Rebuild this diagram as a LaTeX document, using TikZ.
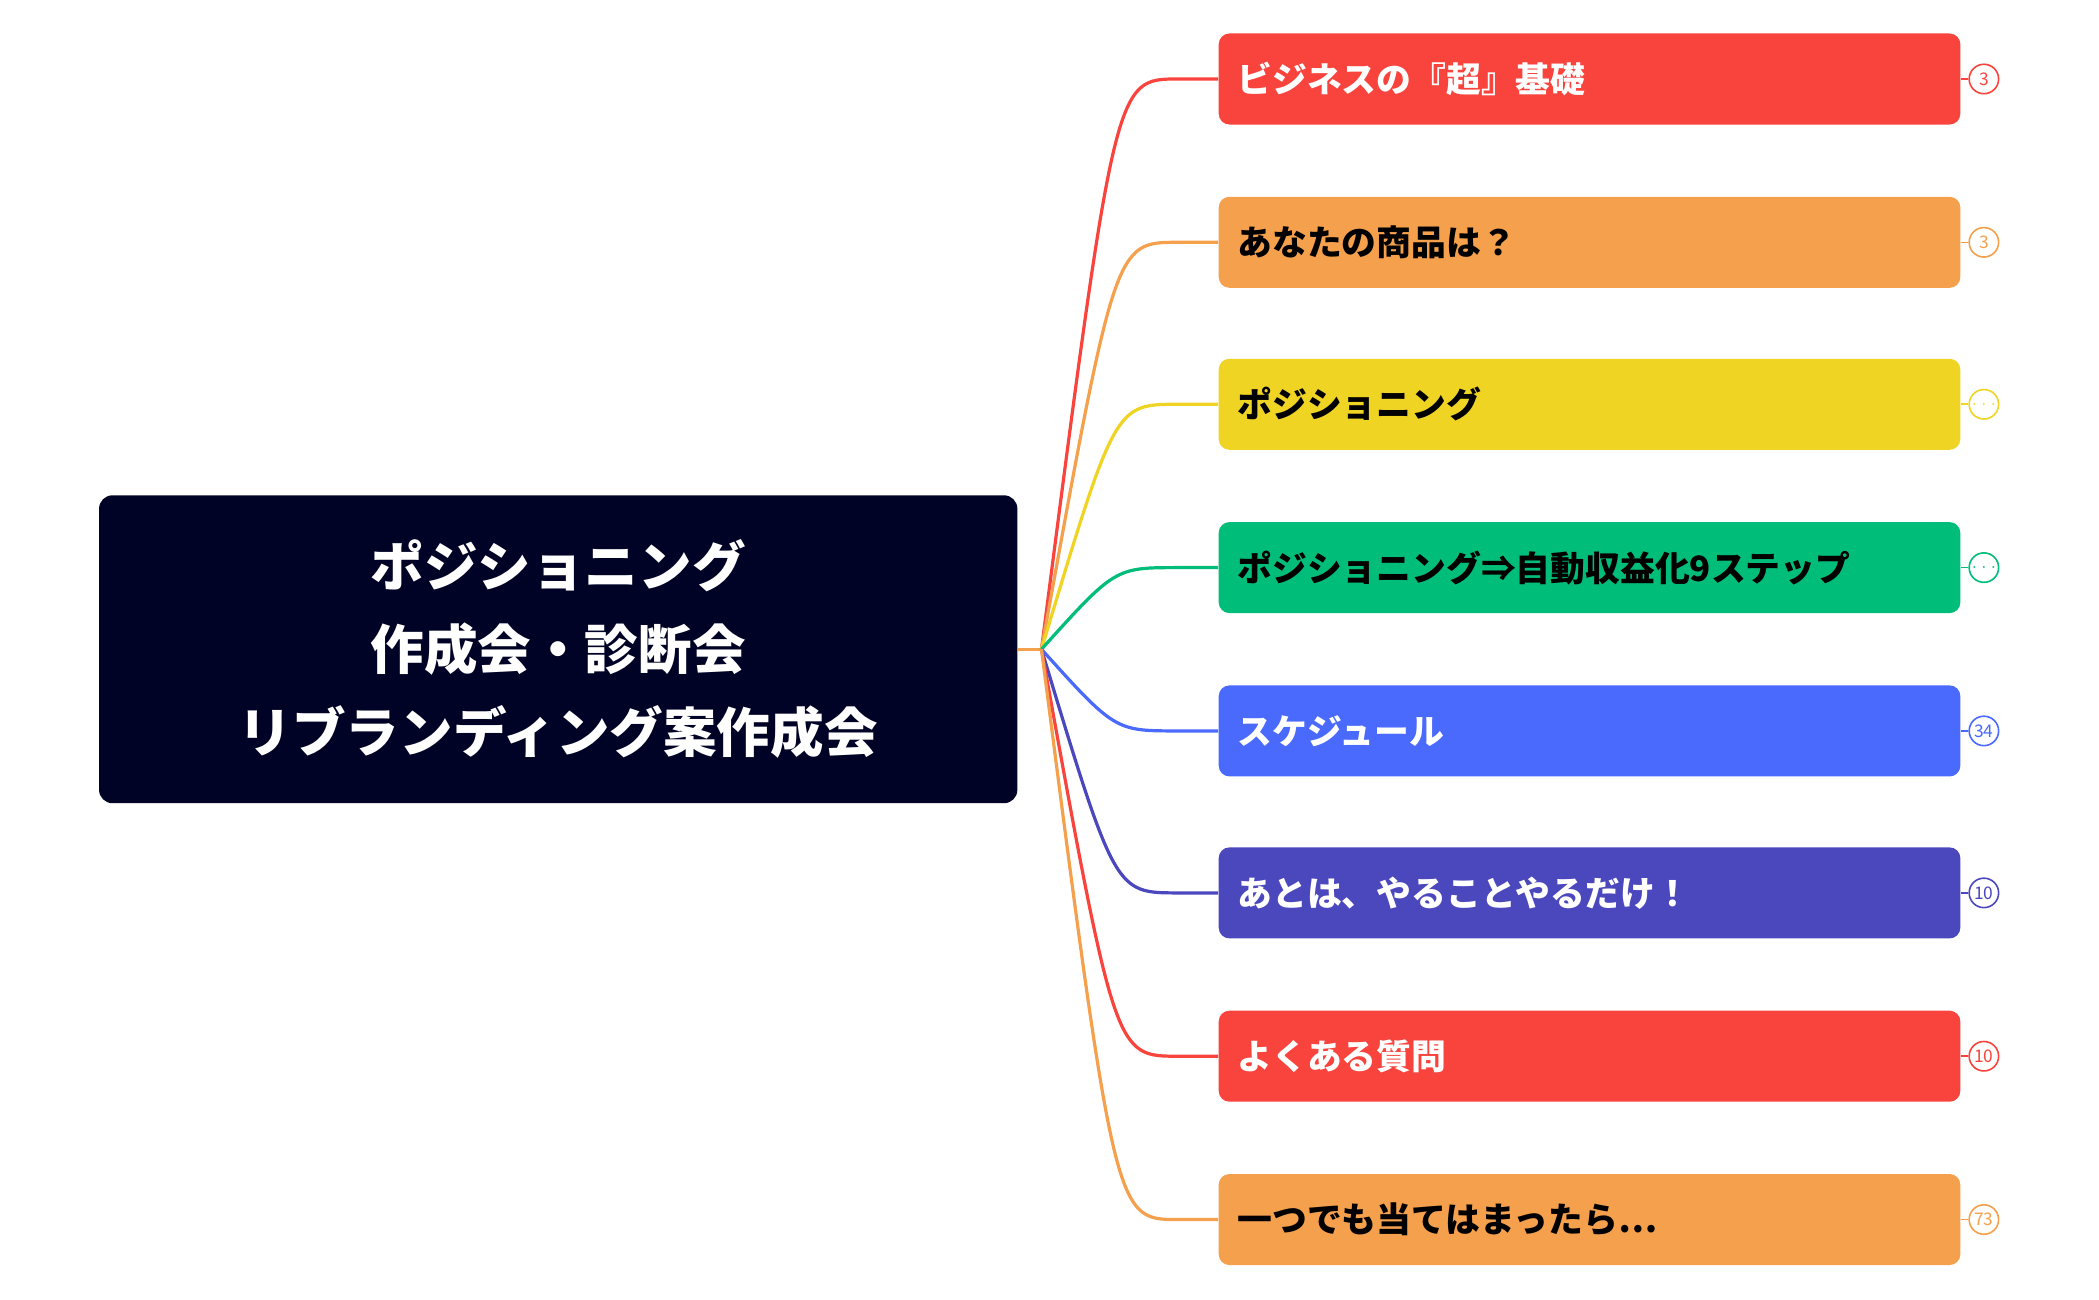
\documentclass[tikz,border=0pt]{standalone}
\usepackage{fontspec}
\setmainfont{Noto Sans CJK JP}
\begin{document}
\begin{tikzpicture}[x=0.5pt,y=-0.5pt,
  br/.style={rounded corners=4pt,minimum width=277pt,minimum height=34pt,inner sep=0pt,anchor=west,font=\fontsize{13}{15}\selectfont\bfseries,text width=263pt,align=left},
  cnt/.style={circle,draw,fill=white,line width=0.6pt,minimum size=11pt,inner sep=0pt,font=\fontsize{6.5}{7}\selectfont},
  con/.style={line width=1.2pt}]
\definecolor{cR}{HTML}{F9443E}\definecolor{cO}{HTML}{F5A04C}\definecolor{cY}{HTML}{F0D424}
\definecolor{cG}{HTML}{00BD7A}\definecolor{cB}{HTML}{4A6AFD}\definecolor{cI}{HTML}{4B48BE}
\definecolor{navy}{HTML}{000326}
\useasboundingbox (0,0) rectangle (1568,971);
\node[fill=navy,rounded corners=5pt,minimum width=343pt,minimum height=115pt,text=white,align=center,font=\fontsize{20}{31}\selectfont\bfseries] (root) at (417,485) {ポジショニング\\作成会・診断会\\リブランディング案作成会};
\coordinate (hub) at (778,485);
\draw[cO,con] (root.east) -- (hub);
\foreach \y/\c/\tc/\t/\n [count=\i] in {59/cR/white/{ビジネスの『超』基礎}/3, 181/cO/black/{あなたの商品は？}/3, 302/cY/black/{ポジショニング}/{$\cdots$}, 424/cG/black/{ポジショニング⇒自動収益化9ステップ}/{$\cdots$}, 546/cB/white/{スケジュール}/34, 667/cI/white/{あとは、やることやるだけ！}/10, 789/cR/white/{よくある質問}/10, 911/cO/black/{一つでも当てはまったら…}/73}{
  \node[br,fill=\c,text=\tc] (b\i) at (910,\y) {\t};
  \coordinate (k\i) at (880,\y);
  \draw[\c,con] (hub) .. controls (833,\y) .. (k\i) -- (b\i.west);
  \node[cnt,draw=\c,text=\c] (n\i) at (1482,\y) {\n};
  \draw[\c,line width=0.6pt] (b\i.east) -- (n\i.west);
}
\end{tikzpicture}
\end{document}
